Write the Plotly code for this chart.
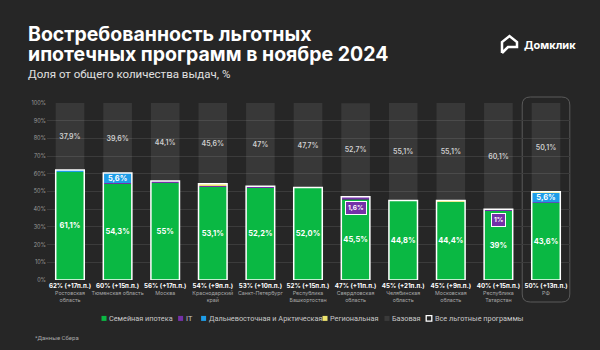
import plotly.graph_objects as go

# ---------------- data ----------------
regions = ["Ростовская<br>область", "Тюменская область", "Москва", "Краснодарский<br>край",
           "Санкт-Петербург", "Республика<br>Башкортостан", "Свердловская<br>область",
           "Челябинская<br>область", "Московская<br>область", "Республика<br>Татарстан", "РФ"]
family = [61.1, 54.3, 55.0, 53.1, 52.2, 52.0, 45.5, 44.8, 44.4, 39.0, 43.6]
family_decimals = [1, 1, 0, 1, 1, 1, 1, 1, 1, 0, 1]
it = [0.0, 0.5, 0.9, 0.3, 0.8, 0.0, 1.6, 0.0, 0.0, 1.0, 0.3]
far_east = [1.0, 5.6, 0.0, 0.0, 0.0, 0.0, 0.0, 0.0, 0.0, 0.0, 5.6]
regional = [0.0, 0.0, 0.0, 1.0, 0.0, 0.3, 0.0, 0.1, 0.5, 0.0, 0.4]
base = [37.9, 39.6, 44.1, 45.6, 47.0, 47.7, 52.7, 55.1, 55.1, 60.1, 50.1]
base_decimals = [1, 1, 1, 1, 0, 1, 1, 1, 1, 1, 1]
total_pct = [62, 60, 56, 54, 53, 52, 47, 45, 45, 40, 50]
delta_pp = [17, 15, 17, 9, 10, 15, 11, 21, 9, 15, 13]
y_ticks = list(range(0, 101, 10))

# ---------------- style ----------------
BG = "#262626"
GREEN = "#0ab843"
PURPLE = "#7431a8"
BLUE = "#1e9de8"
YELLOW = "#ece36e"
BASE = "rgba(255,255,255,0.085)"
FONT = "Inter"
LFONT = "Roboto"

W, H = 600, 350
L, R, T, B = 47, 30, 103, 70
PW, PH = W - L - R, H - T - B
XMIN, XMAX = -0.483, 10.504


def px(x):
    return (x - L) / PW


def py(y):
    return (H - B - y) / PH


def fmt(v, d):
    return f"{v:.{d}f}".replace(".", ",") + "%"


idx = list(range(len(regions)))
cum_it = [f + i for f, i in zip(family, it)]
cum_fe = [c + e for c, e in zip(cum_it, far_east)]
cum_all = [c + r for c, r in zip(cum_fe, regional)]

fig = go.Figure()
bw = 0.6
lbl = dict(textposition="inside", insidetextanchor="middle", constraintext="none", textangle=0)

fig.add_bar(x=idx, y=family, base=[0] * len(idx), width=bw, marker=dict(color=GREEN, line=dict(width=0)),
            text=[fmt(v, d) for v, d in zip(family, family_decimals)],
            textfont=dict(family=FONT, size=7.5, color="white", weight=700), name="Семейная ипотека", **lbl)
fig.add_bar(x=idx, y=it, base=family, width=bw, marker=dict(color=PURPLE, line=dict(width=0)), name="IT")
fig.add_bar(x=idx, y=far_east, base=cum_it, width=bw, marker=dict(color=BLUE, line=dict(width=0)),
            text=[fmt(v, 1) if v >= 5 else "" for v in far_east],
            textfont=dict(family=FONT, size=7.5, color="white", weight=700),
            name="Дальневосточная и Арктическая", **lbl)
fig.add_bar(x=idx, y=regional, base=cum_fe, width=bw, marker=dict(color=YELLOW, line=dict(width=0)),
            name="Региональная")
fig.add_bar(x=idx, y=base, base=cum_all, width=bw, marker=dict(color=BASE, line=dict(width=0)),
            text=[fmt(v, d) for v, d in zip(base, base_decimals)],
            textfont=dict(family=FONT, size=7, color="#cfcfcf", weight=600), name="Базовая", **lbl)
fig.add_bar(x=idx, y=cum_all, base=[0] * len(idx), width=bw,
            marker=dict(color="rgba(0,0,0,0)", line=dict(color="white", width=1.5)),
            name="Все льготные программы")

ticktext = [f"<span style='font-size:6.2px;color:#ffffff'><b>{t}% (+{d}п.п.)</b></span><br>{n}"
            for t, d, n in zip(total_pct, delta_pp, regions)]

annotations = []
shapes = []

# IT callouts
for i, v in enumerate(it):
    if v >= 1:
        annotations.append(dict(x=i, y=cum_it[i], xref="x", yref="y",
                                text=f"<b>{fmt(v, 0 if v == int(v) else 1)}</b>",
                                showarrow=False, yanchor="top", yshift=-4,
                                font=dict(family=FONT, size=6.5, color="white"),
                                bgcolor=PURPLE, bordercolor="white", borderwidth=1, borderpad=2))

# highlight box around RF
xi = len(idx) - 1
x0p = px(L + (xi - 0.5 - XMIN) / (XMAX - XMIN) * PW)
x1p = px(L + (xi + 0.5 - XMIN) / (XMAX - XMIN) * PW)
y0p, y1p = py(302), py(97)
rx, ry = 8 / PW, 8 / PH
path = (f"M {x0p + rx},{y1p} L {x1p - rx},{y1p} Q {x1p},{y1p} {x1p},{y1p - ry} "
        f"L {x1p},{y0p + ry} Q {x1p},{y0p} {x1p - rx},{y0p} L {x0p + rx},{y0p} "
        f"Q {x0p},{y0p} {x0p},{y0p + ry} L {x0p},{y1p - ry} Q {x0p},{y1p} {x0p + rx},{y1p} Z")
shapes.append(dict(type="path", xref="paper", yref="paper", path=path,
                   line=dict(color="#5a5a5a", width=1), fillcolor="rgba(0,0,0,0)", layer="below"))

# title (one text block, tight line spacing), subtitle
title_lines = ["Востребованность льготных", "ипотечных программ в ноябре 2024"]
title_text = "<br>".join(f"<span style='font-size:19.5px'><b>{t}</b></span>" for t in title_lines)
annotations.append(dict(x=px(26), y=py(44), xref="paper", yref="paper", xanchor="left", yanchor="middle",
                        align="left", showarrow=False, text=title_text,
                        font=dict(family=FONT, size=15.4, color="white")))
annotations.append(dict(x=px(26), y=py(74), xref="paper", yref="paper", xanchor="left", yanchor="middle",
                        showarrow=False, text="Доля от общего количества выдач, %",
                        font=dict(family=LFONT, size=11.5, color="#e0e0e0")))

# logo
lx0, lx1, ly0, ly1 = 502, 517, 36, 53
logo = (f"M {px(lx0)},{py(ly1)} L {px(lx0)},{py(ly0 + 6)} L {px((lx0 + lx1) / 2)},{py(ly0)} "
        f"L {px(lx1)},{py(ly0 + 6)} L {px(lx1)},{py(ly1 - 6)} L {px(lx0 + 6)},{py(ly1 - 6)} "
        f"L {px(lx0)},{py(ly1)}")
shapes.append(dict(type="path", xref="paper", yref="paper", path=logo,
                   line=dict(color="white", width=2.5), fillcolor="rgba(0,0,0,0)"))
annotations.append(dict(x=px(522), y=py(45), xref="paper", yref="paper", xanchor="left", yanchor="middle",
                        showarrow=False, text="<b>Домклик</b>",
                        font=dict(family=FONT, size=11, color="white")))

# legend
legend_items = [("Семейная ипотека", GREEN, 104, 107), ("IT", PURPLE, 180.6, 184),
                ("Дальневосточная и Арктическая", BLUE, 203.6, 206.5),
                ("Региональная", YELLOW, 325, 327.5), ("Базовая", "#3a3a3a", 387, 389.5),
                ("Все льготные программы", None, 429, 433)]
LY = 318.4
for name, col, sx, tx in legend_items:
    if col is None:
        shapes.append(dict(type="rect", xref="paper", yref="paper", x0=px(sx - 2.8), x1=px(sx + 2.8),
                           y0=py(LY + 2.8), y1=py(LY - 2.8), fillcolor=BG,
                           line=dict(color="white", width=1.3)))
    else:
        shapes.append(dict(type="rect", xref="paper", yref="paper", x0=px(sx - 2.5), x1=px(sx + 2.5),
                           y0=py(LY + 2.5), y1=py(LY - 2.5), fillcolor=col, line=dict(width=0)))
    annotations.append(dict(x=px(tx), y=py(LY), xref="paper", yref="paper", xanchor="left",
                            yanchor="middle", showarrow=False, text=name,
                            font=dict(family=LFONT, size=7.3, color="#c8c8c8")))

annotations.append(dict(x=px(33), y=py(337), xref="paper", yref="paper", xanchor="left", yanchor="middle",
                        showarrow=False, text="*Данные Сбера",
                        font=dict(family=LFONT, size=6, color="#a8a8a8")))

fig.update_layout(
    width=W, height=H, margin=dict(l=L, r=R, t=T, b=B),
    paper_bgcolor=BG, plot_bgcolor=BG, barmode="overlay", showlegend=False,
    font=dict(family=FONT, color="#bbbbbb"),
    xaxis=dict(range=[XMIN, XMAX], tickvals=idx, ticktext=ticktext, tickangle=0, showgrid=False,
               zeroline=False, showline=False, ticks="", ticklabelstandoff=2,
               tickfont=dict(family=FONT, size=5.3, color="#a8a8a8"), fixedrange=True),
    yaxis=dict(range=[0, 100], tickmode="array", tickvals=y_ticks, ticktext=[f"{v}%" for v in y_ticks],
               showgrid=True, gridcolor="#3b3b3b", gridwidth=1, zeroline=False, showline=False, ticks="",
               tickfont=dict(family=FONT, size=5.5, color="#9a9a9a"), fixedrange=True),
    annotations=annotations, shapes=shapes,
)

fig.write_html("out.html")
